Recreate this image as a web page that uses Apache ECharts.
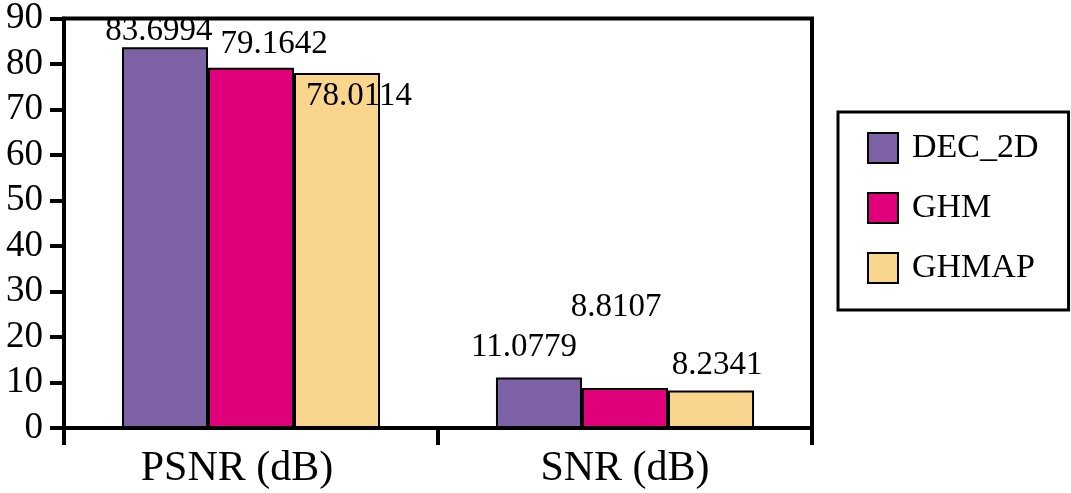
<!DOCTYPE html>
<html>
<head>
<meta charset="utf-8">
<script src="https://cdn.jsdelivr.net/npm/echarts@6/dist/echarts.min.js"></script>
<style>
html,body{margin:0;padding:0;background:#fff;}
#chart{width:1071px;height:493px;}
</style>
</head>
<body>
<div id="chart"></div>
<script>
var categories = ['PSNR (dB)', 'SNR (dB)'];
var seriesNames = ['DEC_2D', 'GHM', 'GHMAP'];
var dec2d = [83.6994, 11.0779];
var ghm = [79.1642, 8.8107];
var ghmap = [78.0114, 8.2341];
var yTicks = [0, 10, 20, 30, 40, 50, 60, 70, 80, 90];

var colors = ['#7D63A5', '#E1007B', '#FAD58E'];
var labelOffsets = [
  [[-6, 1], [-15, -14]],
  [[23, -7], [-9, -64]],
  [[22, 40], [6, -9]]
];
var FONT = "'Liberation Serif', 'Times New Roman', serif";
var allData = [dec2d, ghm, ghmap];

var series = seriesNames.map(function (name, si) {
  return {
    name: name,
    type: 'bar',
    barGap: 0,
    barCategoryGap: '31%',
    itemStyle: { color: colors[si], borderColor: '#000', borderWidth: 2 },
    data: allData[si].map(function (v, ci) {
      return {
        value: v,
        label: {
          show: true,
          position: 'top',
          distance: 0,
          offset: labelOffsets[si][ci],
          formatter: v.toFixed(4),
          fontFamily: FONT,
          fontSize: 33,
          color: '#000'
        }
      };
    })
  };
});

var chart = echarts.init(document.getElementById('chart'));
chart.setOption({
  animation: false,
  backgroundColor: '#fff',
  grid: {
    left: 64, right: 259, top: 14, bottom: 65,
    show: true, borderColor: '#000', borderWidth: 4, backgroundColor: 'transparent'
  },
  legend: {
    orient: 'vertical',
    left: 838, top: 112,
    icon: 'rect',
    itemWidth: 30, itemHeight: 30, itemGap: 26,
    padding: [19, 30, 25, 29],
    borderColor: '#000', borderWidth: 3,
    textStyle: { fontFamily: FONT, fontSize: 34, color: '#000', padding: [0, 0, 0, 9] },
    data: seriesNames
  },
  xAxis: {
    type: 'category',
    data: [
      { value: categories[0], textStyle: { padding: [0, 28, 0, 0] } },
      { value: categories[1] }
    ],
    axisLine: { lineStyle: { color: '#000', width: 4 } },
    axisTick: { show: true, length: 17, lineStyle: { color: '#000', width: 4 } },
    axisLabel: { fontFamily: FONT, fontSize: 42, color: '#000', margin: 20 },
    splitLine: { show: false }
  },
  yAxis: {
    type: 'value',
    min: yTicks[0], max: yTicks[yTicks.length - 1], interval: 10,
    axisLine: { show: true, lineStyle: { color: '#000', width: 4 } },
    axisTick: { show: true, length: 14, lineStyle: { color: '#000', width: 4 } },
    axisLabel: { fontFamily: FONT, fontSize: 37, color: '#000', margin: 21 },
    splitLine: { show: false }
  },
  series: series
});
</script>
</body>
</html>
